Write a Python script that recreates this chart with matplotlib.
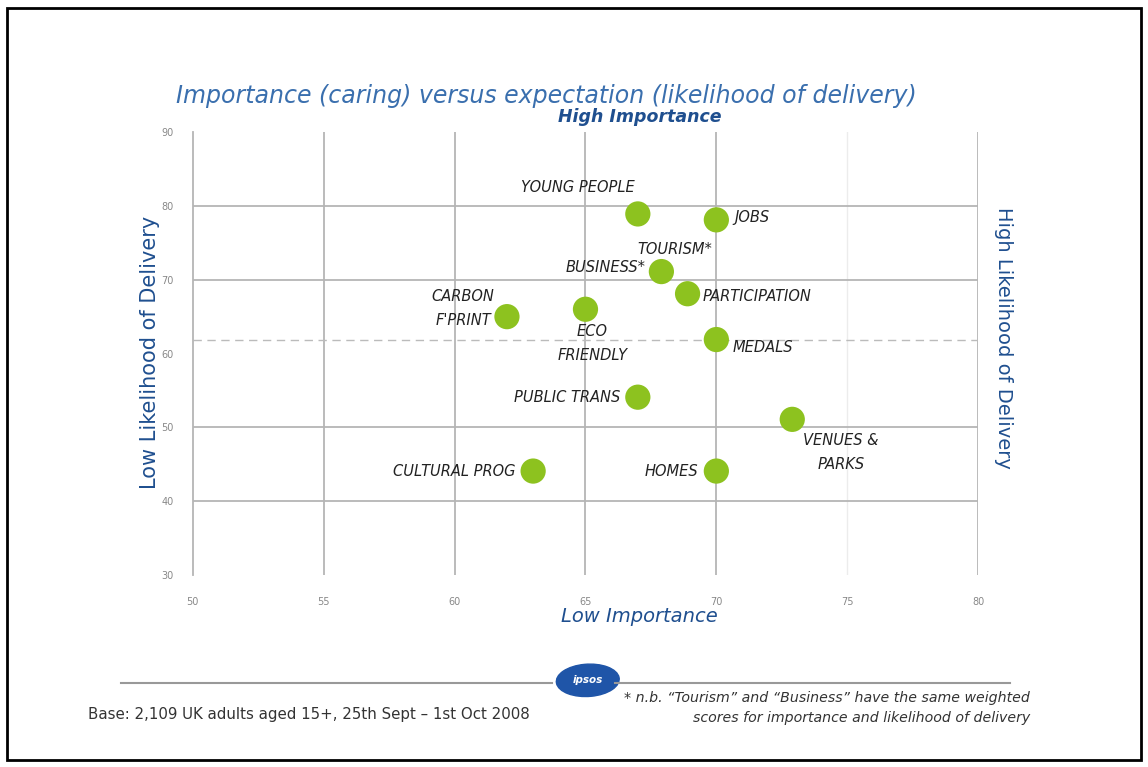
import matplotlib.pyplot as plt
from matplotlib.patches import Rectangle, Ellipse

# data: importance (x) vs likelihood of delivery (y)
labels = ["YOUNG PEOPLE", "JOBS", "BUSINESS*", "PARTICIPATION", "CARBON\nF'PRINT",
          "ECO\nFRIENDLY", "MEDALS", "PUBLIC TRANS", "VENUES &\nPARKS",
          "CULTURAL PROG", "HOMES"]
importance = [67.0, 70.0, 67.9, 68.9, 62.0, 65.0, 70.0, 67.0, 72.9, 63.0, 70.0]
likelihood = [78.9, 78.1, 71.1, 68.1, 65.0, 66.0, 61.9, 54.1, 51.1, 44.1, 44.1]
mean_line = 61.9

x_ticks = [50, 55, 60, 65, 70, 75, 80]
y_ticks = [30, 40, 50, 60, 70, 80, 90]

# label offsets in points and alignment for each point
offsets = [(-43, 19, "center"), (13, 2, "left"), (-11, 3, "right"), (11, -2, "left"),
           (-9, 6, "right"), (5, -25, "center"), (12, -6, "left"), (-13, 0, "right"),
           (35, -24, "center"), (-13, 0, "right"), (-13, 0, "right")]

blue = "#3a6fae"
dark_blue = "#1f4f8f"
font = "DejaVu Sans"

fig = plt.figure(figsize=(11.48, 7.67), dpi=100)
ax = fig.add_axes([0.168, 0.250, 0.684, 0.578])

ax.set_xlim(50, 80)
ax.set_ylim(30, 90)

# grid
for gx in [55, 60, 65, 70, 80]:
    ax.axvline(gx, color="#b5b5b5", lw=1.3, zorder=1)
ax.axvline(75, color="#ececec", lw=1.0, zorder=1)
for gy in [40, 50, 70, 80]:
    ax.axhline(gy, color="#b5b5b5", lw=1.3, zorder=1)
ax.axhline(mean_line, color="#bbbbbb", lw=1.0, ls=(0, (6, 4)), zorder=1)

ax.scatter(importance, likelihood, s=330, color="#8dc21f", edgecolors="none", zorder=3)

for lab, x, y, (dx, dy, ha) in zip(labels, importance, likelihood, offsets):
    ax.annotate(lab, (x, y), xytext=(dx, dy), textcoords="offset points",
                ha=ha, va="center", fontsize=10.5, style="italic", color="#222222",
                multialignment="center", linespacing=1.75, zorder=4, family=font)
ax.annotate("TOURISM*", (67.9, 71.1), xytext=(10, 16), textcoords="offset points",
            ha="center", va="center", fontsize=10.5, style="italic", color="#222222",
            family=font)

ax.set_xticks(x_ticks)
ax.set_yticks(y_ticks)
ax.tick_params(length=0, labelsize=7, labelcolor="#888888", pad=14)
ax.tick_params(axis="x", pad=16)
ax.spines["left"].set_color("#b5b5b5")
ax.spines["left"].set_linewidth(1.3)
for s in ["top", "right", "bottom"]:
    ax.spines[s].set_visible(False)

fig.text(0.153, 0.875, "Importance (caring) versus expectation (likelihood of delivery)",
         fontsize=17, style="italic", color=blue, va="center", family=font)
fig.text(0.557, 0.847, "High Importance", fontsize=12.5, style="italic", weight="bold",
         color=dark_blue, ha="center", va="center", family=font)
fig.text(0.557, 0.196, "Low Importance", fontsize=14, style="italic",
         color=dark_blue, ha="center", va="center", family=font)
fig.text(0.131, 0.540, "Low Likelihood of Delivery", fontsize=15, rotation=90,
         color=dark_blue, ha="center", va="center", family=font)
fig.text(0.874, 0.560, "High Likelihood of Delivery", fontsize=14, rotation=-90,
         color=dark_blue, ha="center", va="center", family=font)

# footer
fig.add_artist(plt.Line2D([0.105, 0.481], [0.110, 0.110], color="#999999", lw=1.5))
fig.add_artist(plt.Line2D([0.536, 0.880], [0.110, 0.110], color="#999999", lw=1.5))
fig.add_artist(Ellipse((0.512, 0.113), 0.055, 0.042, angle=8, color="#1f55a8"))
fig.text(0.512, 0.113, "ipsos", fontsize=7.5, style="italic", color="white",
         ha="center", va="center", weight="bold", family=font)
fig.text(0.077, 0.069, "Base: 2,109 UK adults aged 15+, 25th Sept \u2013 1st Oct 2008",
         fontsize=10.8, color="#333333", va="center", family=font)
fig.text(0.897, 0.090, "* n.b. \u201cTourism\u201d and \u201cBusiness\u201d have the same weighted",
         fontsize=10.2, color="#333333", style="italic", ha="right", va="center",
         family=font)
fig.text(0.897, 0.064, "scores for importance and likelihood of delivery",
         fontsize=10.2, color="#333333", style="italic", ha="right", va="center",
         family=font)

# outer frame
fig.add_artist(Rectangle((0.006, 0.009), 0.988, 0.981, transform=fig.transFigure,
                         fill=False, edgecolor="black", lw=2))

fig.savefig("out.png", dpi=100)
